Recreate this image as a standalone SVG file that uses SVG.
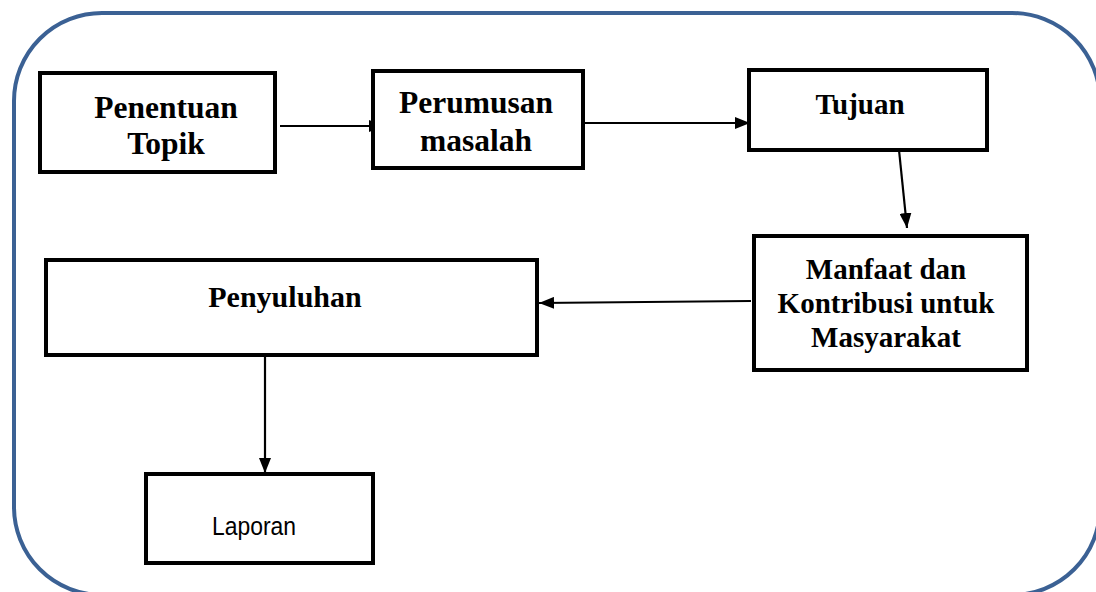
<svg xmlns="http://www.w3.org/2000/svg" width="1096" height="592" viewBox="0 0 1096 592">
<style>
.box{fill:#fff;stroke:#000;stroke-width:4}
.t{font-family:"Liberation Serif","Times New Roman",serif;font-weight:bold;fill:#000;text-anchor:middle}
.s{font-family:"Liberation Sans",Arial,sans-serif;fill:#000;text-anchor:middle}
.c{stroke:#000;stroke-width:2.2;fill:none;marker-end:url(#ah)}
</style>
<defs>
<marker id="ah" markerWidth="15" markerHeight="12" refX="15" refY="6" orient="auto" markerUnits="userSpaceOnUse">
<path d="M0,0 L15,6 L0,12 Z" fill="#000"/>
</marker>
</defs>
<rect x="0" y="0" width="1096" height="592" fill="#fff"/>
<rect id="frame" x="14" y="13" width="1086" height="582" rx="88" ry="88" fill="none" stroke="#3b6194" stroke-width="4"/>
<g id="connectors">
<line class="c" x1="280" y1="126" x2="384" y2="126"/>
<line class="c" x1="583" y1="123" x2="750" y2="123"/>
<line class="c" x1="899" y1="150" x2="907" y2="228" stroke-width="3"/>
<line class="c" x1="751" y1="301" x2="539" y2="303"/>
<line class="c" x1="265" y1="355" x2="265" y2="473"/>
</g>
<g id="penentuan">
<rect class="box" x="40" y="73" width="235" height="99"/>
<text class="t" font-size="31.5" x="166" y="118">Penentuan</text>
<text class="t" font-size="31.5" x="166" y="154">Topik</text>
</g>
<g id="perumusan">
<rect class="box" x="373" y="71" width="210" height="97"/>
<text class="t" font-size="31.5" x="476" y="113">Perumusan</text>
<text class="t" font-size="31.5" x="476" y="151">masalah</text>
</g>
<g id="tujuan">
<rect class="box" x="749" y="70" width="238" height="80"/>
<text class="t" font-size="29" x="860" y="114">Tujuan</text>
</g>
<g id="manfaat">
<rect class="box" x="754" y="236" width="273" height="134"/>
<text class="t" font-size="29" x="886" y="279">Manfaat dan</text>
<text class="t" font-size="29" x="886" y="313">Kontribusi untuk</text>
<text class="t" font-size="29" x="886" y="347">Masyarakat</text>
</g>
<g id="penyuluhan">
<rect class="box" x="46" y="260" width="491" height="95"/>
<text class="t" font-size="30" x="285" y="307">Penyuluhan</text>
</g>
<g id="laporan">
<rect class="box" x="146" y="474" width="227" height="89"/>
<text class="s" font-size="25" x="254" y="535" textLength="84" lengthAdjust="spacingAndGlyphs">Laporan</text>
</g>
</svg>
